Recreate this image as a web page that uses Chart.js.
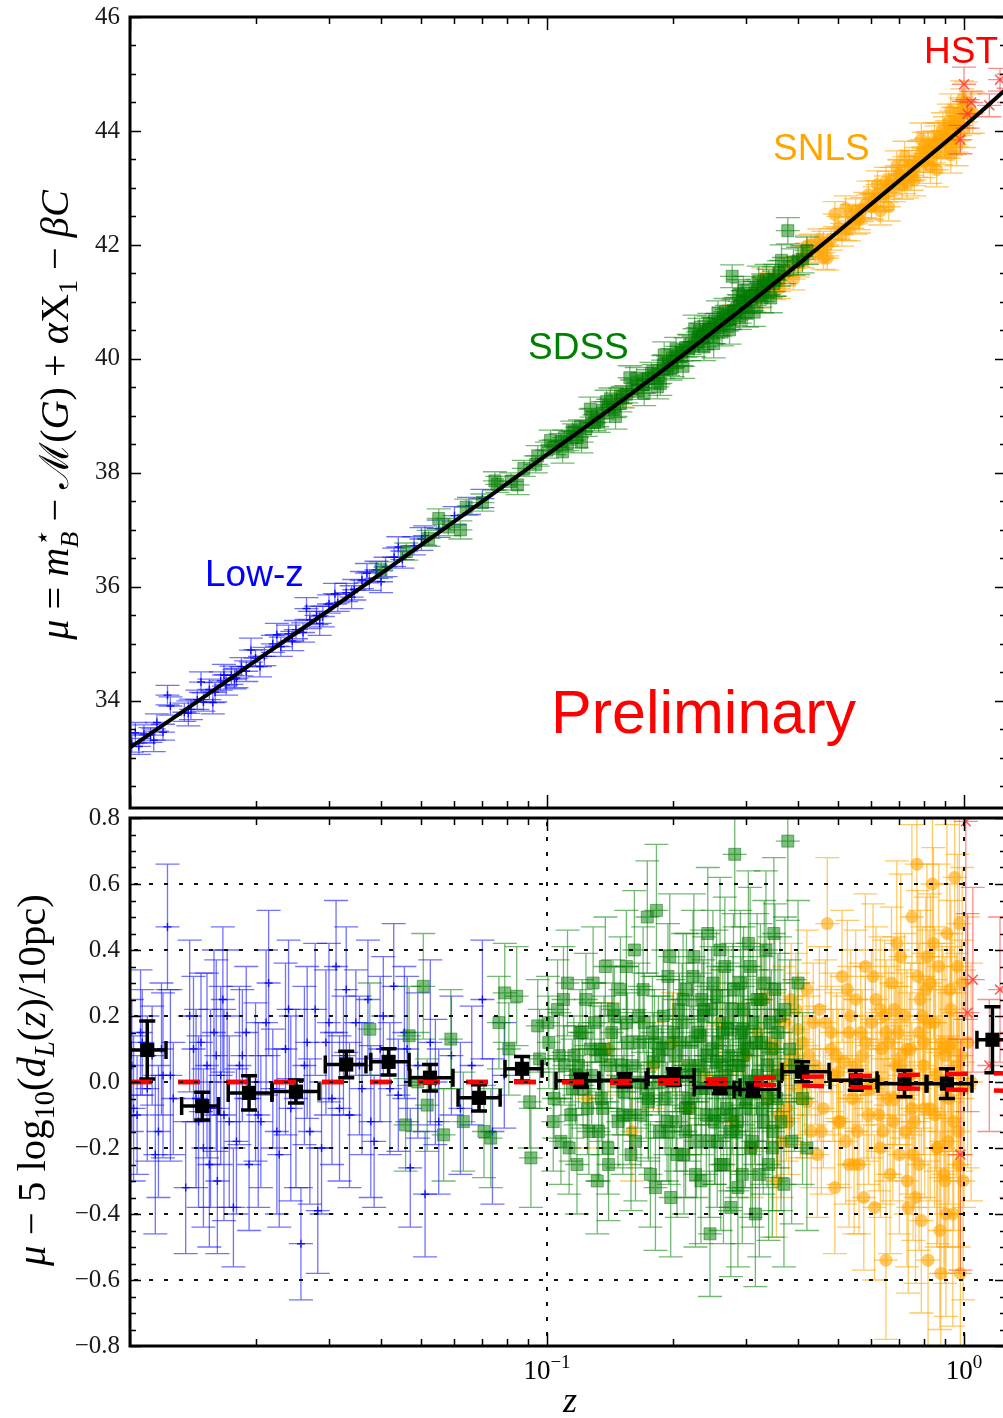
<!DOCTYPE html>
<html lang="en">
<head>
<meta charset="UTF-8" />
<title>Hubble diagram</title>
<script src="https://cdn.jsdelivr.net/npm/chart.js"></script>
<style>
  html, body { margin: 0; padding: 0; background: #fff; overflow: hidden; }
  #wrap { position: relative; width: 1003px; height: 1418px; overflow: hidden; background: #fff; }
  canvas { position: absolute; left: 0; }
  #hubble { top: 0; }
  #resid { top: 790px; }
</style>
</head>
<body>
<div id="wrap">
  <canvas id="hubble" width="1010" height="812" style="width:1010px;height:812px"></canvas>
  <canvas id="resid" width="1010" height="628" style="width:1010px;height:628px"></canvas>
</div>
<script>
// axes
const zMin = 0.01, zMax = 1.261;
const zMajorTicks = [0.01, 0.1, 1];
const zMinorTicks = [0.02, 0.03, 0.04, 0.05, 0.06, 0.07, 0.08, 0.09, 0.2, 0.3, 0.4, 0.5, 0.6, 0.7, 0.8, 0.9];
const muTicks = [34, 36, 38, 40, 42, 44, 46];
const resTicks = [-0.8, -0.6, -0.4, -0.2, 0, 0.2, 0.4, 0.6, 0.8];

// ---- top panel: distance modulus ----
const lowzZ = [0.0101,0.0105,0.0108,0.0112,0.0116,0.0120,0.0123,0.0135,0.0140,0.0145,
  0.0150,0.0155,0.0160,0.0165,0.0170,0.0175,0.0180,0.0185,0.0190,0.0200,
  0.0210,0.0220,0.0230,0.0240,0.0250,0.0260,0.0270,0.0280,0.0290,0.0300,
  0.0315,0.0330,0.0345,0.0360,0.0375,0.0390,0.0410,0.0430,0.0450,0.0480,
  0.0510,0.0550,0.0600,0.0650,0.0700,
  0.0103,0.0114,0.0125,0.0138,0.0148,0.0158,0.0168,0.0178,0.0195,0.0205,
  0.0225,0.0245,0.0265,0.0285,0.0310,0.0340,0.0370,0.0400,0.0440,0.0500];
const lowzMu = [33.25,33.20,33.42,33.40,33.62,33.45,34.10,33.80,33.85,34.02,
  33.98,34.20,34.15,34.35,34.28,34.45,34.40,34.60,34.52,34.75,
  34.78,35.00,34.95,35.18,35.25,35.20,35.42,35.50,35.48,35.70,
  35.72,35.90,35.95,36.12,36.10,36.30,36.35,36.52,36.48,36.72,
  36.90,37.02,37.25,37.42,37.55,
  33.44,33.31,33.91,33.78,34.33,33.97,34.45,34.38,34.89,34.60,
  35.16,35.05,35.62,35.36,35.88,35.82,36.24,36.09,36.70,36.84];
const lowzMuErr = [0.15,0.14,0.16,0.13,0.15,0.14,0.17,0.16,0.18,0.17,
  0.16,0.18,0.17,0.16,0.18,0.16,0.17,0.16,0.18,0.15,
  0.16,0.15,0.17,0.15,0.16,0.17,0.15,0.16,0.18,0.16,
  0.15,0.16,0.18,0.15,0.16,0.15,0.17,0.16,0.15,0.16,
  0.17,0.15,0.16,0.15,0.16,
  0.18,0.20,0.16,0.22,0.18,0.20,0.19,0.17,0.21,0.18,
  0.20,0.17,0.19,0.21,0.18,0.20,0.17,0.19,0.18,0.20];

const sdssZ = [0.040,0.046,0.052,0.058,0.064,0.070,0.076,0.082,0.088,0.094,
  0.100,0.104,0.108,0.112,0.116,0.120,0.124,0.128,0.132,0.136,
  0.140,0.145,0.150,0.155,0.160,0.165,0.170,0.175,0.180,0.185,
  0.190,0.195,0.200,0.205,0.210,0.215,0.220,0.225,0.230,0.235,
  0.240,0.245,0.250,0.255,0.260,0.265,0.270,0.275,0.278,0.280,
  0.285,0.290,0.295,0.300,0.310,0.315,0.320,0.325,0.330,0.340,
  0.350,0.360,0.370,0.378,0.390,0.400,0.410,0.420,
  0.110,0.130,0.150,0.170,0.190,0.210,0.230,0.250,0.270,0.290,
  0.310,0.330,0.350,0.290,0.245,0.200,
  0.102,0.109,0.115,0.121,0.127,0.133,0.139,0.146,0.152,0.158,
  0.164,0.171,0.178,0.184,0.191,0.198,0.204,0.212,0.219,0.226,
  0.232,0.238,0.244,0.251,0.257,0.263,0.268,0.274,0.282,0.288,
  0.294,0.302,0.308,0.314,0.322,0.328,0.336,0.344,0.352,0.365,
  0.075,0.085,0.095,0.062,0.055,0.118,0.142,0.187,0.236,0.296];
const sdssMu = [36.30,36.62,36.85,37.05,37.40,37.48,37.80,37.85,38.08,38.15,
  38.40,38.45,38.55,38.52,38.72,38.80,38.78,38.98,38.95,39.10,
  39.15,39.12,39.35,39.38,39.48,39.45,39.62,39.65,39.75,39.72,
  39.90,39.88,40.02,40.05,40.12,40.20,40.25,40.22,40.38,40.35,
  40.48,40.50,40.55,40.60,40.58,40.72,40.75,40.70,41.45,40.85,
  40.88,40.82,41.00,41.02,41.05,41.15,41.20,41.12,41.28,41.35,
  41.40,41.50,41.55,42.25,41.70,41.72,41.75,41.90,
  38.62,38.88,39.22,39.55,39.82,40.05,40.30,40.45,40.68,40.92,
  41.10,41.22,41.32,40.72,40.62,39.85,
  38.57,38.37,38.74,38.54,39.12,38.89,39.25,38.99,39.33,39.67,
  39.65,39.40,39.75,39.51,40.07,39.83,40.16,39.87,40.20,40.53,
  40.49,40.21,40.52,40.27,40.80,40.47,40.83,40.51,40.83,41.13,
  41.08,40.80,41.10,40.82,41.36,41.07,41.39,41.07,41.38,41.73,
  37.86,37.79,38.30,37.00,37.20,38.62,39.30,39.57,40.39,41.20];
const sdssMuErr = [0.14,0.15,0.14,0.15,0.14,0.15,0.14,0.15,0.14,0.15,
  0.14,0.13,0.14,0.13,0.14,0.13,0.14,0.15,0.14,0.15,
  0.14,0.15,0.14,0.15,0.15,0.16,0.15,0.16,0.15,0.16,
  0.16,0.17,0.16,0.17,0.16,0.17,0.17,0.18,0.17,0.18,
  0.18,0.17,0.18,0.19,0.18,0.19,0.19,0.18,0.20,0.19,
  0.20,0.19,0.20,0.20,0.20,0.21,0.20,0.21,0.21,0.22,
  0.22,0.22,0.23,0.23,0.23,0.24,0.24,0.24,
  0.13,0.14,0.15,0.15,0.16,0.17,0.17,0.18,0.19,0.20,
  0.20,0.21,0.22,0.20,0.18,0.16,
  0.18,0.20,0.17,0.19,0.21,0.18,0.20,0.22,0.19,0.21,
  0.20,0.22,0.19,0.21,0.23,0.20,0.22,0.21,0.23,0.24,
  0.22,0.24,0.23,0.25,0.22,0.24,0.23,0.25,0.24,0.26,
  0.25,0.24,0.26,0.25,0.27,0.26,0.27,0.26,0.28,0.27,
  0.16,0.17,0.18,0.16,0.17,0.18,0.19,0.21,0.23,0.25];

const snlsZ = [0.150,0.200,0.250,0.280,0.300,0.320,0.340,0.350,0.360,0.370,
  0.380,0.400,0.410,0.420,0.440,0.450,0.460,0.470,0.480,0.500,
  0.510,0.520,0.540,0.550,0.560,0.570,0.580,0.600,0.610,0.620,
  0.640,0.650,0.660,0.670,0.680,0.700,0.710,0.720,0.740,0.750,
  0.760,0.770,0.780,0.800,0.810,0.820,0.840,0.850,0.860,0.870,
  0.880,0.900,0.910,0.920,0.930,0.940,0.950,0.960,0.970,0.980,
  0.990,1.000,1.030,
  0.33,0.39,0.43,0.47,0.49,0.53,0.59,0.63,0.69,0.73,
  0.79,0.83,0.89,0.93,0.99,0.36,0.42,0.46,0.52,0.56,
  0.62,0.66,0.72,0.76,0.82,0.86,0.92,0.96,1.01,1.05,
  0.55,0.65,0.75,0.85,0.95,0.45,0.60,0.70,0.80,0.90];
const snlsMu = [39.30,39.98,40.55,40.80,40.98,41.05,41.30,41.20,41.35,41.45,
  41.60,41.62,41.78,41.85,41.88,41.92,42.05,42.00,42.10,42.30,
  42.18,42.28,42.50,42.40,42.48,42.62,42.70,42.68,42.80,42.90,
  42.85,42.98,43.05,43.12,43.00,43.25,43.05,43.15,43.40,43.22,
  43.30,43.45,43.55,43.45,43.60,43.68,43.55,43.72,43.80,43.85,
  43.70,43.95,43.88,43.82,44.35,44.10,43.90,43.95,44.15,44.25,
  44.55,44.05,44.30,
  41.42,41.40,41.99,41.77,42.54,42.29,42.88,42.60,43.39,43.09,
  43.85,43.38,44.01,43.58,44.40,41.24,41.98,41.77,42.64,42.44,
  43.06,42.67,43.55,43.14,43.70,43.32,44.15,43.72,44.51,44.32,
  42.59,43.11,43.39,43.84,44.09,42.08,42.67,43.23,43.70,43.84];
const snlsMuErr = [0.14,0.14,0.15,0.15,0.15,0.16,0.16,0.16,0.17,0.17,
  0.17,0.18,0.18,0.18,0.18,0.18,0.19,0.19,0.19,0.20,
  0.20,0.20,0.21,0.21,0.21,0.21,0.22,0.22,0.22,0.23,
  0.23,0.23,0.24,0.24,0.24,0.25,0.25,0.25,0.26,0.26,
  0.26,0.26,0.27,0.27,0.27,0.28,0.28,0.28,0.29,0.29,
  0.29,0.30,0.30,0.30,0.30,0.31,0.31,0.32,0.32,0.33,
  0.33,0.34,0.35,
  0.18,0.19,0.20,0.21,0.22,0.22,0.24,0.25,0.26,0.27,
  0.29,0.30,0.31,0.32,0.34,0.18,0.19,0.20,0.22,0.23,
  0.24,0.25,0.27,0.28,0.29,0.30,0.32,0.33,0.35,0.36,
  0.22,0.25,0.27,0.30,0.33,0.20,0.23,0.26,0.28,0.31];

const hstZ = [1.00, 1.04, 1.02, 0.98, 1.15, 1.22, 1.28];
const hstMu = [44.82, 44.50, 44.30, 43.85, 44.45, 44.90, 44.75];
const hstMuErr = [0.30, 0.20, 0.25, 0.25, 0.20, 0.20, 0.25];

// best-fit curve
const curveZ = [0.01, 0.015, 0.02, 0.03, 0.05, 0.07, 0.1, 0.15, 0.2, 0.3, 0.4, 0.5, 0.7, 1.0, 1.3];
const curveMu = [33.18, 34.06, 34.70, 35.59, 36.74, 37.50, 38.32, 39.25, 39.93, 40.93, 41.66, 42.24, 43.13, 44.08, 44.82];

// ---- bottom panel: residuals ----
const lowzResZ = [0.0101,0.0104,0.0107,0.0110,0.0113,0.0117,0.0120,0.0123,0.0127,0.0136,
  0.0142,0.0146,0.0150,0.0153,0.0156,0.0159,0.0162,0.0165,0.0168,0.0171,
  0.0177,0.0180,0.0186,0.0193,0.0200,0.0206,0.0212,0.0220,0.0228,0.0236,
  0.0243,0.0257,0.0262,0.0270,0.0278,0.0282,0.0295,0.0305,0.0312,0.0325,
  0.0336,0.0348,0.0360,0.0372,0.0385,0.0398,0.0429,0.0440,0.0455,0.0470,
  0.0490,0.0510,0.0525,0.0550,0.0590,0.0620,0.0660,0.0700,0.0740,0.0790,
  0.0102,0.0106,0.0115,0.0119,0.0125,0.0139,0.0144,0.0148,0.0155,0.0161,
  0.0167,0.0173,0.0183,0.0190,0.0203,0.0215,0.0225,0.0240,0.0250,0.0266,
  0.0288,0.0300,0.0318,0.0330,0.0355,0.0378,0.0405,0.0420,0.0462,0.0540];
const lowzRes = [0.05,-0.10,0.12,-0.02,0.08,-0.15,0.02,0.47,-0.05,-0.32,
  0.10,-0.12,-0.20,0.05,-0.08,0.15,-0.30,0.02,-0.10,0.20,
  -0.38,-0.18,0.08,-0.25,0.00,-0.12,0.18,-0.02,-0.22,0.10,
  -0.08,-0.49,0.05,-0.15,0.22,-0.39,0.12,-0.05,0.35,0.08,
  -0.10,0.18,-0.02,0.25,-0.18,0.10,0.29,-0.04,0.15,-0.26,
  0.05,-0.34,0.12,-0.12,0.08,-0.08,0.05,0.25,-0.15,0.02,
  -0.08,0.15,-0.22,0.10,0.02,0.20,-0.05,0.12,-0.25,0.08,
  0.25,-0.12,0.05,0.15,-0.10,0.30,-0.15,0.22,-0.05,0.12,
  -0.20,0.18,-0.08,0.28,0.05,-0.12,0.20,-0.02,0.10,0.00];
const lowzResErr = [0.20,0.18,0.16,0.22,0.15,0.20,0.25,0.19,0.17,0.20,
  0.22,0.26,0.24,0.28,0.30,0.25,0.22,0.27,0.32,0.20,
  0.18,0.22,0.20,0.20,0.24,0.20,0.22,0.18,0.22,0.26,
  0.28,0.17,0.24,0.22,0.20,0.19,0.22,0.20,0.20,0.18,
  0.22,0.16,0.20,0.18,0.20,0.22,0.19,0.17,0.20,0.18,
  0.22,0.19,0.25,0.22,0.18,0.20,0.18,0.18,0.22,0.16,
  0.22,0.19,0.24,0.20,0.26,0.23,0.27,0.21,0.25,0.29,
  0.22,0.26,0.24,0.20,0.28,0.22,0.25,0.21,0.27,0.23,
  0.20,0.24,0.22,0.19,0.21,0.23,0.18,0.20,0.22,0.19];

const sdssResZ = [0.0376,0.0467,0.0458,0.0505,0.0490,0.0516,0.0588,0.0565,0.0630,0.0706,
  0.0733,0.0767,0.0792,0.0810,0.0846,0.0909,0.0915,0.0950,0.0960,
  0.101,0.104,0.106,0.108,0.110,0.112,0.114,0.116,0.118,0.120,
  0.122,0.124,0.126,0.128,0.130,0.132,0.134,0.136,0.138,0.140,
  0.142,0.145,0.148,0.150,0.153,0.156,0.159,0.162,0.165,0.168,
  0.171,0.174,0.177,0.180,0.183,0.186,0.189,0.192,0.195,0.198,
  0.201,0.204,0.207,0.210,0.213,0.216,0.219,0.222,0.225,0.228,
  0.231,0.234,0.237,0.240,0.243,0.246,0.249,0.252,0.255,0.258,
  0.261,0.264,0.267,0.270,0.273,0.276,0.279,0.282,0.285,0.288,
  0.291,0.294,0.297,0.300,0.304,0.308,0.312,0.316,0.320,0.325,
  0.330,0.335,0.340,0.345,0.350,0.356,0.362,0.370,0.378,0.386,
  0.392,0.400,0.410,0.420,
  0.119,0.127,0.135,0.143,0.151,0.158,0.166,0.173,0.181,0.188,
  0.196,0.203,0.211,0.218,0.226,0.233,0.241,0.248,0.256,0.263,
  0.271,0.278,0.286,0.295,0.306,0.318,0.328,0.338,0.348,0.358,
  0.1005,0.1035,0.107,0.1095,0.113,0.117,0.1215,0.125,0.129,0.133,
  0.137,0.1405,0.144,0.147,0.152,0.155,0.160,0.163,0.167,0.170,
  0.175,0.179,0.182,0.185,0.190,0.194,0.197,0.200,0.205,0.208,
  0.212,0.215,0.220,0.224,0.227,0.230,0.235,0.238,0.242,0.245,
  0.250,0.253,0.257,0.260,0.265,0.268,0.272,0.275,0.280,0.284,
  0.287,0.292,0.296,0.299,0.303,0.307,0.311,0.315,0.319,0.323,
  0.327,0.332,0.337,0.342,0.347,0.352,0.357,0.364,0.372,0.382,
  0.115,0.135,0.155,0.175,0.195,0.215,0.235,0.255,0.275,0.295];
const sdssRes = [0.16,0.14,-0.13,0.29,0.00,-0.07,0.13,-0.16,-0.12,-0.15,
  -0.17,0.18,0.27,0.10,0.26,-0.06,-0.23,0.17,0.07,
  0.12,-0.05,0.22,-0.18,0.05,0.30,-0.10,0.08,-0.25,0.15,
  -0.02,0.25,-0.15,0.02,0.18,-0.30,0.10,-0.08,0.35,-0.20,
  0.05,0.20,-0.12,0.28,-0.03,0.12,-0.22,0.40,0.00,-0.10,
  0.18,0.50,-0.28,0.06,0.52,-0.15,0.10,-0.05,0.32,-0.35,
  0.15,-0.12,0.22,0.02,-0.22,0.28,-0.08,0.12,0.38,-0.18,
  0.05,-0.30,0.20,-0.02,0.45,-0.46,0.10,-0.12,0.26,0.00,
  -0.25,0.15,0.35,-0.08,0.08,-0.38,0.22,0.69,-0.15,0.05,
  0.30,-0.28,0.12,-0.05,0.42,-0.20,0.18,-0.40,0.02,0.25,
  -0.12,0.40,-0.25,0.10,0.45,-0.05,0.20,-0.31,0.73,-0.18,
  0.05,0.30,-0.05,-0.20,
  0.05,0.10,-0.05,0.15,0.05,-0.10,0.20,-0.02,0.12,0.00,
  -0.15,0.08,0.18,-0.05,0.02,0.14,-0.10,0.22,-0.18,0.05,
  0.16,-0.02,-0.12,0.08,0.00,0.12,-0.08,0.05,-0.15,0.15,
  0.18,-0.12,0.08,0.25,-0.20,0.02,0.15,-0.08,0.30,-0.15,
  0.10,-0.25,0.22,0.00,-0.10,0.35,0.05,-0.18,0.12,0.28,
  -0.05,0.15,-0.32,0.08,0.20,-0.12,0.38,0.00,-0.22,0.12,
  0.25,-0.08,0.05,0.32,-0.28,0.15,-0.02,0.22,0.08,-0.18,
  0.30,-0.10,0.12,0.40,-0.25,0.02,0.18,-0.15,0.28,0.05,
  -0.32,0.15,0.22,-0.08,0.10,0.35,-0.18,0.00,0.25,-0.28,
  0.12,0.30,-0.05,0.18,-0.20,0.28,0.02,-0.12,0.22,0.10,
  -0.02,0.08,0.18,-0.06,0.12,-0.15,0.25,0.06,-0.10,0.16];
const sdssResErr = [0.14,0.15,0.14,0.16,0.15,0.14,0.15,0.14,0.15,0.14,
  0.15,0.14,0.15,0.14,0.15,0.14,0.15,0.14,0.15,
  0.14,0.12,0.15,0.13,0.12,0.16,0.14,0.12,0.15,0.13,
  0.12,0.14,0.13,0.15,0.12,0.16,0.13,0.14,0.15,0.14,
  0.13,0.15,0.14,0.16,0.13,0.15,0.17,0.18,0.14,0.16,
  0.15,0.17,0.16,0.15,0.20,0.15,0.16,0.17,0.16,0.18,
  0.16,0.15,0.18,0.17,0.18,0.17,0.16,0.18,0.19,0.17,
  0.18,0.19,0.17,0.18,0.20,0.19,0.18,0.19,0.20,0.18,
  0.20,0.19,0.21,0.19,0.20,0.21,0.20,0.22,0.20,0.21,
  0.22,0.21,0.20,0.22,0.22,0.21,0.23,0.22,0.22,0.23,
  0.22,0.24,0.23,0.24,0.23,0.24,0.24,0.25,0.24,0.25,
  0.26,0.25,0.26,0.25,
  0.13,0.14,0.13,0.15,0.14,0.15,0.16,0.15,0.16,0.17,
  0.16,0.17,0.18,0.17,0.18,0.19,0.18,0.19,0.20,0.19,
  0.20,0.20,0.21,0.21,0.22,0.22,0.23,0.23,0.24,0.24,
  0.14,0.15,0.13,0.16,0.14,0.15,0.16,0.14,0.17,0.15,
  0.16,0.17,0.15,0.16,0.18,0.17,0.16,0.18,0.17,0.19,
  0.18,0.17,0.19,0.18,0.20,0.18,0.19,0.20,0.19,0.21,
  0.20,0.19,0.21,0.20,0.22,0.21,0.20,0.22,0.21,0.23,
  0.22,0.21,0.23,0.22,0.24,0.22,0.23,0.24,0.23,0.25,
  0.24,0.23,0.25,0.24,0.25,0.24,0.26,0.25,0.26,0.25,
  0.26,0.25,0.27,0.26,0.27,0.26,0.28,0.27,0.28,0.27,
  0.15,0.16,0.17,0.18,0.19,0.20,0.21,0.22,0.23,0.24];

const snlsResZ = [0.125,0.140,0.160,0.180,0.200,0.220,0.240,0.260,0.280,0.300,
  0.310,0.320,0.330,0.340,0.350,0.355,0.360,0.370,0.380,0.390,
  0.400,0.410,0.420,0.430,0.440,0.450,0.460,0.470,0.480,0.490,
  0.500,0.510,0.520,0.530,0.540,0.550,0.560,0.570,0.580,0.590,
  0.600,0.610,0.620,0.630,0.640,0.650,0.660,0.670,0.680,0.690,
  0.700,0.710,0.720,0.730,0.740,0.750,0.760,0.771,0.780,0.790,
  0.800,0.810,0.820,0.830,0.840,0.850,0.860,0.870,0.880,0.890,
  0.900,0.910,0.920,0.930,0.940,0.950,0.960,0.970,0.980,0.990,
  1.000,1.020,1.040,
  0.450,0.500,0.550,0.600,0.650,0.700,0.750,0.800,0.850,0.900,
  0.380,0.420,0.480,0.530,0.580,0.630,0.680,0.730,0.780,0.830,
  0.880,0.930,0.970,0.360,0.400,
  0.345,0.365,0.385,0.405,0.425,0.445,0.465,0.485,0.505,0.525,
  0.545,0.565,0.585,0.605,0.625,0.645,0.665,0.685,0.705,0.725,
  0.745,0.765,0.785,0.805,0.825,0.845,0.865,0.885,0.905,0.925,
  0.945,0.965,0.985,0.995,0.375,0.435,0.495,0.555,0.615,0.675,
  0.735,0.795,0.855,0.915,0.975,0.395,0.455,0.515,0.575,0.635,
  0.695,0.755,0.815,0.875,0.935,0.415,0.535,0.655,0.775,0.895];
const snlsRes = [-0.05,0.10,-0.15,0.05,0.12,-0.08,0.02,0.18,-0.12,0.08,
  -0.20,0.15,0.25,-0.05,0.10,-0.30,0.02,0.18,-0.12,0.08,
  -0.02,0.12,0.28,-0.15,0.05,0.22,-0.08,0.48,0.10,-0.32,
  0.03,0.32,-0.18,0.15,-0.05,0.25,-0.25,0.08,0.35,-0.10,
  0.18,-0.38,0.00,0.22,-0.15,-0.54,0.12,0.30,-0.05,0.42,
  -0.22,0.08,0.20,-0.30,0.02,0.50,-0.12,0.66,0.15,-0.42,
  0.05,0.28,-0.54,-0.08,0.60,0.18,-0.20,0.35,-0.58,0.10,
  -0.30,0.45,-0.05,0.22,-0.40,0.62,0.05,-0.15,-0.58,0.30,
  -0.02,0.12,0.00,
  0.00,-0.12,0.05,-0.02,0.15,0.05,-0.08,0.12,-0.10,0.08,
  0.05,-0.06,0.15,-0.25,0.12,-0.20,0.22,0.10,-0.25,0.30,
  0.00,0.10,-0.25,-0.10,0.16,
  0.12,-0.18,0.25,-0.05,0.08,-0.22,0.18,0.02,-0.12,0.28,
  -0.25,0.15,-0.02,0.32,-0.10,0.20,-0.28,0.05,0.38,-0.15,
  0.10,-0.35,0.25,-0.08,0.18,0.42,-0.20,0.12,-0.40,0.28,
  -0.12,0.35,0.08,-0.30,-0.08,0.18,0.08,-0.15,0.25,-0.12,
  -0.38,0.20,0.02,-0.18,0.48,0.22,-0.15,0.06,-0.35,0.10,
  0.15,-0.22,0.38,-0.45,0.12,0.02,0.20,-0.05,0.32,-0.28];
const snlsResErr = [0.15,0.14,0.15,0.13,0.15,0.14,0.15,0.16,0.15,0.16,
  0.15,0.16,0.17,0.16,0.17,0.17,0.16,0.17,0.16,0.18,
  0.17,0.18,0.18,0.17,0.18,0.19,0.18,0.20,0.19,0.20,
  0.19,0.20,0.19,0.20,0.20,0.21,0.21,0.20,0.22,0.21,
  0.22,0.22,0.21,0.22,0.22,0.24,0.23,0.23,0.24,0.25,
  0.24,0.25,0.25,0.26,0.25,0.28,0.26,0.30,0.27,0.28,
  0.27,0.28,0.30,0.28,0.32,0.29,0.30,0.31,0.32,0.30,
  0.31,0.33,0.32,0.33,0.34,0.35,0.34,0.35,0.36,0.35,
  0.36,0.38,0.36,
  0.18,0.19,0.20,0.21,0.22,0.24,0.26,0.27,0.28,0.30,
  0.16,0.17,0.18,0.19,0.20,0.21,0.22,0.24,0.26,0.27,
  0.29,0.31,0.33,0.16,0.17,
  0.16,0.17,0.17,0.18,0.18,0.19,0.19,0.20,0.20,0.21,
  0.21,0.21,0.22,0.22,0.23,0.23,0.24,0.24,0.25,0.25,
  0.26,0.26,0.27,0.27,0.28,0.29,0.29,0.30,0.31,0.32,
  0.33,0.34,0.35,0.36,0.16,0.18,0.19,0.21,0.22,0.24,
  0.26,0.27,0.29,0.32,0.35,0.17,0.19,0.20,0.22,0.23,
  0.25,0.26,0.28,0.30,0.33,0.18,0.20,0.23,0.26,0.30];

const hstResZ = [1.01, 1.05, 1.02, 0.98, 1.15, 1.22, 1.30];
const hstRes = [0.79, 0.31, 0.21, -0.22, 0.05, 0.28, -0.10];
const hstResErr = [0.60, 0.28, 0.30, 0.35, 0.20, 0.22, 0.25];

// binned residuals (black)
const binZ = [0.0110,0.0149,0.0193,0.0250,0.0330,0.0417,0.0524,0.0687,0.0871,0.1207,
  0.1535,0.2013,0.2600,0.3120,0.4090,0.5500,0.7200,0.9100,1.1700];
const binZLo = [0.0100,0.0133,0.0172,0.0219,0.0294,0.0378,0.0469,0.0612,0.0793,0.1051,
  0.1332,0.1747,0.2253,0.2809,0.3660,0.4772,0.6219,0.8154,1.074];
const binZHi = [0.0122,0.0163,0.0219,0.0284,0.0368,0.0467,0.0595,0.0772,0.0973,0.1332,
  0.1728,0.2253,0.2903,0.3601,0.4746,0.6185,0.8109,1.045,1.30];
const binRes = [0.097,-0.073,-0.033,-0.029,0.053,0.061,0.013,-0.048,0.040,0.004,
  0.005,0.015,-0.017,-0.023,0.031,0.005,-0.005,-0.005,0.128];
const binErr = [0.088,0.042,0.052,0.035,0.040,0.040,0.040,0.040,0.037,0.020,
  0.020,0.025,0.018,0.020,0.030,0.030,0.040,0.045,0.100];

// two model curves (red dashed)
const modelZ = [0.01, 0.1, 0.2, 0.3, 0.4, 0.55, 0.72, 0.91, 1.17, 1.3];
const modelHigh = [0, 0, 0.005, 0.010, 0.016, 0.018, 0.021, 0.024, 0.026, 0.027];
const modelLow = [0, 0, -0.004, -0.007, -0.010, -0.016, -0.019, -0.023, -0.026, -0.027];

const SERIF = '"Liberation Serif", "DejaVu Serif", serif';
const SANS = '"Liberation Sans", Arial, sans-serif';

const pts = (xs, ys) => xs.map((x, i) => ({ x, y: ys[i] }));

const lowzStyle = { pointStyle: 'cross', pointRadius: 4, pointBorderColor: 'rgba(0,0,255,0.85)', pointBackgroundColor: 'rgba(0,0,255,0.85)', pointBorderWidth: 1.4, errColor: 'rgba(20,20,255,0.6)', cap: 12, order: 11 };
const snlsStyle = { pointStyle: 'circle', pointRadius: 6.5, pointBackgroundColor: 'rgba(255,165,0,0.6)', pointBorderColor: 'rgba(255,165,0,0.6)', pointBorderWidth: 0, errColor: 'rgba(255,165,0,0.6)', cap: 12, order: 10 };
const sdssStyle = { pointStyle: 'rect', pointRadius: 8.5, pointBackgroundColor: 'rgba(0,128,0,0.5)', pointBorderColor: 'rgba(0,100,0,0.45)', pointBorderWidth: 1, errColor: 'rgba(0,128,0,0.55)', cap: 12, order: 9 };
const hstStyle = { pointStyle: 'crossRot', pointRadius: 7, pointBorderColor: 'rgba(255,50,50,0.8)', pointBackgroundColor: 'rgba(255,50,50,0.8)', pointBorderWidth: 1.6, errColor: 'rgba(255,60,60,0.6)', cap: 12, order: 8 };

// error bars drawn under each dataset's markers
const errorBars = {
  id: 'errorBars',
  beforeDatasetDraw(chart, args) {
    const ds = chart.data.datasets[args.index];
    if (!ds.errY) return;
    const { ctx, chartArea: a, scales: { x, y } } = chart;
    ctx.save();
    ctx.beginPath();
    ctx.rect(a.left, a.top, a.right - a.left, a.bottom - a.top);
    ctx.clip();
    ctx.strokeStyle = ds.errColor;
    ctx.lineWidth = ds.errWidth || 1.3;
    const c = ds.cap;
    ds.data.forEach((p, i) => {
      const px = x.getPixelForValue(p.x);
      const py = y.getPixelForValue(p.y);
      const top = y.getPixelForValue(p.y + ds.errY[i]);
      const bot = y.getPixelForValue(p.y - ds.errY[i]);
      const xl = ds.errXLo ? x.getPixelForValue(ds.errXLo[i]) : px - c;
      const xr = ds.errXHi ? x.getPixelForValue(ds.errXHi[i]) : px + c;
      ctx.beginPath();
      ctx.moveTo(px, top); ctx.lineTo(px, bot);
      ctx.moveTo(px - c, top); ctx.lineTo(px + c, top);
      ctx.moveTo(px - c, bot); ctx.lineTo(px + c, bot);
      ctx.moveTo(xl, py); ctx.lineTo(xr, py);
      if (ds.errXLo) {
        ctx.moveTo(xl, py - 9); ctx.lineTo(xl, py + 9);
        ctx.moveTo(xr, py - 9); ctx.lineTo(xr, py + 9);
      }
      ctx.stroke();
    });
    ctx.restore();
  }
};

// thick box, inward ticks on all four sides, y tick labels
const frame = {
  id: 'frame',
  afterDraw(chart, args, opts) {
    const { ctx, chartArea: a, scales: { x, y } } = chart;
    ctx.save();
    ctx.strokeStyle = '#000';
    ctx.lineWidth = 1.5;
    ctx.beginPath();
    const vt = (v, len) => {
      const px = Math.round(x.getPixelForValue(v)) + 0.5;
      if (px < a.left || px > a.right) return;
      ctx.moveTo(px, a.bottom); ctx.lineTo(px, a.bottom - len);
      ctx.moveTo(px, a.top); ctx.lineTo(px, a.top + len);
    };
    zMajorTicks.forEach(v => vt(v, 13));
    zMinorTicks.forEach(v => vt(v, 7));
    const ht = (v, len) => {
      const py = Math.round(y.getPixelForValue(v)) + 0.5;
      ctx.moveTo(a.left, py); ctx.lineTo(a.left + len, py);
      ctx.moveTo(a.right, py); ctx.lineTo(a.right - len, py);
    };
    const step = opts.minorStep;
    for (let k = Math.ceil(y.min / step - 1e-6); k * step <= y.max + 1e-6; k++) {
      const v = k * step;
      const major = opts.ticks.some(t => Math.abs(t - v) < 1e-6);
      ht(v, major ? 11 : 6);
    }
    ctx.stroke();
    ctx.lineWidth = 3;
    ctx.strokeRect(a.left, a.top, a.right - a.left, a.bottom - a.top);
    ctx.fillStyle = '#1a1a1a';
    ctx.font = `25px ${SERIF}`;
    ctx.textAlign = 'right';
    ctx.textBaseline = 'middle';
    opts.ticks.forEach(v => ctx.fillText(opts.fmt(v), a.left - 10, y.getPixelForValue(v)));
    ctx.restore();
  }
};

// dotted grid of the residual panel
const dotGrid = {
  id: 'dotGrid',
  afterDatasetsDraw(chart) {
    const { ctx, chartArea: a, scales: { x, y } } = chart;
    ctx.save();
    ctx.strokeStyle = '#111';
    ctx.lineWidth = 2;
    ctx.setLineDash([4, 11]);
    ctx.beginPath();
    resTicks.filter(v => Math.abs(v) < 0.79).forEach(v => {
      const py = Math.round(y.getPixelForValue(v));
      ctx.moveTo(a.left + 4, py); ctx.lineTo(a.right, py);
    });
    [0.1, 1].forEach(v => {
      const px = Math.round(x.getPixelForValue(v));
      ctx.moveTo(px, a.top + 4); ctx.lineTo(px, a.bottom);
    });
    ctx.stroke();
    ctx.restore();
  }
};

// text with italics, sub- and superscripts
function richText(ctx, parts, size, cx, cy, rotate, fitLen) {
  const fnt = (it, s) => `${it ? 'italic ' : ''}${s}px ${SERIF}`;
  const measure = sz => parts.reduce((w, p) => {
    if (p.stack) {
      ctx.font = fnt(true, sz * 0.65);
      return w + Math.max(...p.stack.map(t => ctx.measureText(t).width));
    }
    ctx.font = fnt(p.it, sz * (p.s || 1));
    return w + ctx.measureText(p.t).width;
  }, 0);
  if (fitLen) size = size * fitLen / measure(size);
  const total = measure(size);
  ctx.save();
  ctx.translate(cx, cy);
  if (rotate) ctx.rotate(-Math.PI / 2);
  ctx.fillStyle = '#000';
  ctx.textAlign = 'left';
  ctx.textBaseline = 'alphabetic';
  let xx = -total / 2;
  parts.forEach(p => {
    if (p.stack) {
      ctx.font = fnt(true, size * 0.65);
      ctx.fillText(p.stack[0], xx, -size * 0.42);
      ctx.fillText(p.stack[1], xx, size * 0.25);
      xx += Math.max(...p.stack.map(t => ctx.measureText(t).width));
      return;
    }
    ctx.font = fnt(p.it, size * (p.s || 1));
    ctx.fillText(p.t, xx, (p.dy || 0) * size);
    xx += ctx.measureText(p.t).width;
  });
  ctx.restore();
}

const hubbleText = {
  id: 'hubbleText',
  afterDraw(chart) {
    const ctx = chart.ctx;
    ctx.save();
    ctx.textAlign = 'left';
    ctx.textBaseline = 'alphabetic';
    ctx.font = `37px ${SANS}`;
    ctx.fillStyle = '#0000ff'; ctx.fillText('Low-z', 205, 586);
    ctx.fillStyle = '#008000'; ctx.fillText('SDSS', 528, 359);
    ctx.fillStyle = '#ffa500'; ctx.fillText('SNLS', 773, 160);
    ctx.fillStyle = '#ff0000'; ctx.fillText('HST', 924, 63);
    ctx.font = `61px ${SANS}`;
    ctx.fillText('Preliminary', 551, 733);
    ctx.restore();
    richText(ctx, [
      { t: 'μ', it: true }, { t: ' = ' }, { t: 'm', it: true }, { stack: ['⋆', 'B'] },
      { t: ' − ' }, { t: 'ℳ' }, { t: '(' }, { t: 'G', it: true }, { t: ') + ' },
      { t: 'α', it: true }, { t: 'X' }, { t: '1', s: 0.7, dy: 0.22 },
      { t: ' − ' }, { t: 'β', it: true }, { t: 'C', it: true }
    ], 40, 68, 415, true, 450);
  }
};

// bottom canvas starts at y = 790 of the page
const residText = {
  id: 'residText',
  afterDraw(chart) {
    const { ctx, scales: { x } } = chart;
    const power = (exp, v) => {
      ctx.font = `27px ${SERIF}`;
      const wb = ctx.measureText('10').width;
      ctx.font = `19px ${SERIF}`;
      const we = ctx.measureText(exp).width;
      const left = x.getPixelForValue(v) - (wb + we) / 2;
      ctx.font = `27px ${SERIF}`;
      ctx.fillText('10', left, 589);
      ctx.font = `19px ${SERIF}`;
      ctx.fillText(exp, left + wb, 578);
    };
    ctx.save();
    ctx.fillStyle = '#000';
    ctx.textAlign = 'left';
    ctx.textBaseline = 'alphabetic';
    power('−1', 0.1);
    power('0', 1);
    ctx.font = `italic 36px ${SERIF}`;
    ctx.textAlign = 'center';
    ctx.fillText('z', 570, 622);
    ctx.restore();
    richText(ctx, [
      { t: 'μ', it: true }, { t: ' − 5 log' }, { t: '10', s: 0.7, dy: 0.22 }, { t: '(' },
      { t: 'd', it: true }, { t: 'L', it: true, s: 0.7, dy: 0.22 }, { t: '(' }, { t: 'z', it: true },
      { t: ')/10pc)' }
    ], 40, 45, 290, true, 372);
  }
};

function panelOptions(yMin, yMax, yTicks, fmt, pad, minorStep) {
  return {
    responsive: false,
    animation: false,
    events: [],
    layout: { padding: pad, autoPadding: false },
    plugins: {
      legend: { display: false },
      tooltip: { enabled: false },
      frame: { ticks: yTicks, minorStep, fmt }
    },
    scales: {
      x: { type: 'logarithmic', min: zMin, max: zMax, display: false },
      y: { min: yMin, max: yMax, display: false }
    }
  };
}

new Chart(document.getElementById('hubble'), {
  type: 'scatter',
  data: {
    datasets: [
      { label: 'Low-z', data: pts(lowzZ, lowzMu), errY: lowzMuErr, ...lowzStyle },
      { label: 'SNLS', data: pts(snlsZ, snlsMu), errY: snlsMuErr, ...snlsStyle },
      { label: 'SDSS', data: pts(sdssZ, sdssMu), errY: sdssMuErr, ...sdssStyle },
      { label: 'HST', data: pts(hstZ, hstMu), errY: hstMuErr, ...hstStyle },
      { label: 'fit', data: pts(curveZ, curveMu), showLine: true, pointRadius: 0, borderColor: '#000', borderWidth: 4, cubicInterpolationMode: 'monotone', order: 2 }
    ]
  },
  options: panelOptions(32.12, 46, muTicks, v => String(v), { top: 17, right: 4, bottom: 4, left: 130 }, 0.5),
  plugins: [errorBars, frame, hubbleText]
});

new Chart(document.getElementById('resid'), {
  type: 'scatter',
  data: {
    datasets: [
      { label: 'Low-z', data: pts(lowzResZ, lowzRes), errY: lowzResErr, ...lowzStyle },
      { label: 'SNLS', data: pts(snlsResZ, snlsRes), errY: snlsResErr, ...snlsStyle },
      { label: 'SDSS', data: pts(sdssResZ, sdssRes), errY: sdssResErr, ...sdssStyle },
      { label: 'HST', data: pts(hstResZ, hstRes), errY: hstResErr, ...hstStyle },
      { label: 'binned', data: pts(binZ, binRes), errY: binErr, errXLo: binZLo, errXHi: binZHi,
        errColor: '#000', errWidth: 3.5, cap: 8, pointStyle: 'rect', pointRadius: 10,
        pointBackgroundColor: '#000', pointBorderColor: '#000', pointBorderWidth: 0, order: 3 },
      { label: 'model A', data: pts(modelZ, modelHigh), showLine: true, pointRadius: 0, borderColor: '#ff0000', borderWidth: 4.5, borderDash: [22, 26], order: 2 },
      { label: 'model B', data: pts(modelZ, modelLow), showLine: true, pointRadius: 0, borderColor: '#ff0000', borderWidth: 4.5, borderDash: [22, 26], order: 1 }
    ]
  },
  options: panelOptions(-0.8, 0.8, resTicks,
    v => (v < 0 ? '−' + Math.abs(v).toFixed(1) : v.toFixed(1)),
    { top: 28, right: 4, bottom: 72, left: 130 }, 0.05),
  plugins: [errorBars, frame, dotGrid, residText]
});
</script>
</body>
</html>
